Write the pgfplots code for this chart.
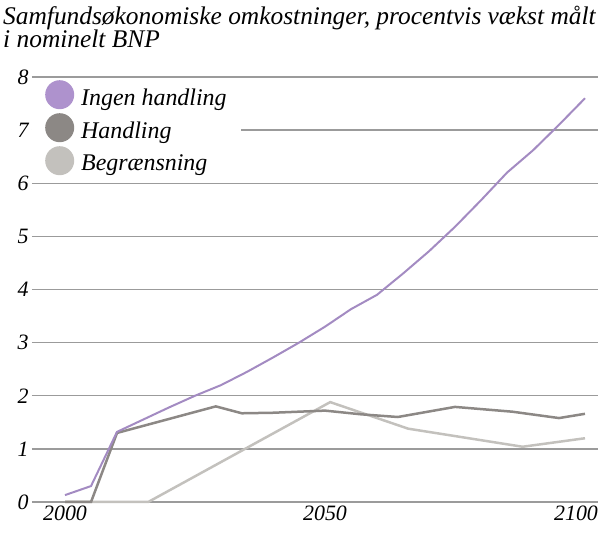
\documentclass[border=0pt]{standalone}
\usepackage{pgfplots}
\pgfplotsset{compat=1.18}
\usepackage{fontspec}
\setmainfont{Liberation Serif}

\definecolor{ingenline}{HTML}{A38BC2}
\definecolor{ingendot}{HTML}{AE92CD}
\definecolor{handl}{HTML}{8C8885}
\definecolor{begr}{HTML}{C3C1BD}
\definecolor{gridc}{HTML}{9B9B9B}

\begin{document}
\begin{tikzpicture}[x=1bp,y=1bp]
\begin{axis}[
  at={(32bp,33bp)}, anchor=south west,
  width=566bp, height=425bp, scale only axis,
  xmin=1993.65, xmax=2102.5,
  ymin=0, ymax=8,
  axis line style={draw=none},
  major tick length=0pt,
  ytick={0,1,...,8},
  xtick={2000,2050},
  extra x ticks={2100},
  extra x tick style={xticklabel style={xshift=-9bp}},
  xticklabel style={/pgf/number format/1000 sep={}},
  /pgf/number format/assume math mode=true,
  ticklabel style={font=\itshape\fontsize{22}{24}\selectfont},
  ymajorgrids,
  grid style={draw=gridc, line width=1.4bp},
  clip=false,
  legend cell align=left,
  legend image code/.code={\fill[#1, draw=none] (14.5bp,3bp) circle (14.5bp);},
  legend style={at={(rel axis cs:0,1)}, anchor=north west, yshift=-2bp,
    draw=none, fill=white, inner xsep=13bp, inner ysep=1bp,
    row sep=4bp,
    font=\itshape\fontsize{24}{26}\selectfont,
    nodes={inner sep=1bp},
    /tikz/every odd column/.style={column sep=6bp}},
]
\addlegendimage{ingendot}
\addlegendentry{Ingen handling}
\addlegendimage{handl}
\addlegendentry{Handling}
\addlegendimage{begr}
\addlegendentry{Begrænsning}

% Begrænsning
\addplot[forget plot, begr, line width=2.5bp] coordinates {
  (2000,0) (2016,0) (2051,1.88) (2066,1.38) (2088,1.04) (2100,1.2)};
% Handling
\addplot[forget plot, handl, line width=2.5bp] coordinates {
  (2000,0) (2005,0) (2010,1.3) (2029,1.8) (2034,1.67) (2040,1.68)
  (2050,1.72) (2057,1.65) (2064,1.6) (2075,1.79) (2086,1.7)
  (2095,1.58) (2100,1.66)};
% Ingen handling
\addplot[forget plot, ingenline, line width=2bp] coordinates {
  (2000,0.13) (2005,0.3) (2010,1.32) (2015,1.55) (2020,1.78) (2025,2.0)
  (2030,2.2) (2035,2.45) (2040,2.72) (2045,3.0) (2050,3.3) (2055,3.63)
  (2060,3.9) (2065,4.3) (2070,4.72) (2075,5.18) (2080,5.68) (2085,6.2)
  (2090,6.62) (2095,7.1) (2100,7.6)};
\end{axis}
\node[anchor=base west, inner sep=0pt, font=\itshape\fontsize{25.5}{27}\selectfont]
  at (3bp,510bp) {Samfundsøkonomiske omkostninger, procentvis vækst målt};
\node[anchor=base west, inner sep=0pt, font=\itshape\fontsize{25.5}{27}\selectfont]
  at (3bp,487bp) {i nominelt BNP};
\pgfresetboundingbox
\path[use as bounding box] (0bp,0bp) rectangle (600bp,535bp);
\end{tikzpicture}
\end{document}
